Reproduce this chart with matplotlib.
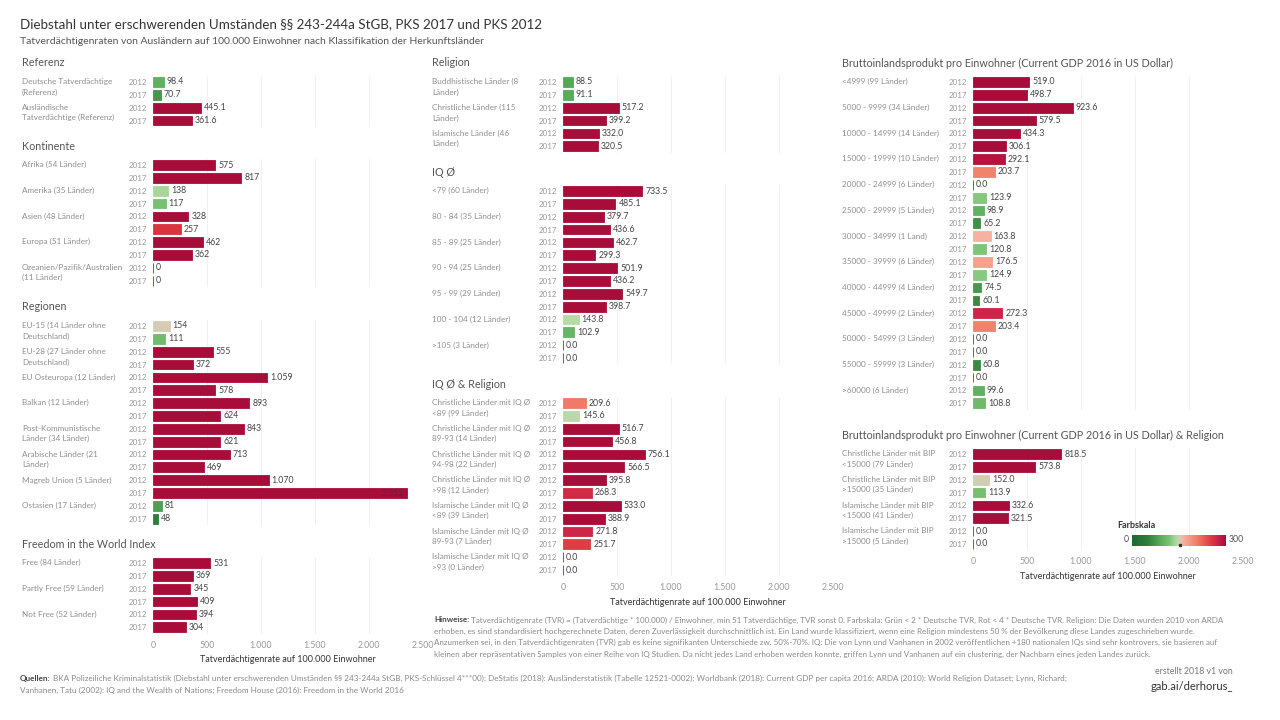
import matplotlib
matplotlib.use("Agg")
import matplotlib.pyplot as plt
import numpy as np
from matplotlib.colors import LinearSegmentedColormap, Normalize
from matplotlib.transforms import offset_copy

plt.rcParams['font.family'] = ['Lato', 'DejaVu Sans']

# ---- data ----
ref_cats = ["Deutsche Tatverdächtige\n(Referenz)", "Ausländische\nTatverdächtige (Referenz)"]
ref_vals = [98.4, 70.7, 445.1, 361.6]

kont_cats = ["Afrika (54 Länder)", "Amerika (35 Länder)", "Asien (48 Länder)",
             "Europa (51 Länder)", "Ozeanien/Pazifik/Australien\n(11 Länder)"]
kont_vals = [575, 817, 138, 117, 328, 257, 462, 362, 0, 0]

reg_cats = ["EU-15 (14 Länder ohne\nDeutschland)", "EU-28 (27 Länder ohne\nDeutschland)",
            "EU Osteuropa (12 Länder)", "Balkan (12 Länder)",
            "Post-Kommunistische\nLänder (34 Länder)", "Arabische Länder (21\nLänder)",
            "Magreb Union (5 Länder)", "Ostasien (17 Länder)"]
reg_vals = [154, 111, 555, 372, 1059, 578, 893, 624, 843, 621, 713, 469, 1070, 2352, 81, 48]

free_cats = ["Free (84 Länder)", "Partly Free (59 Länder)", "Not Free (52 Länder)"]
free_vals = [531, 369, 345, 409, 394, 304]

rel_cats = ["Buddhistische Länder (8\nLänder)", "Christliche Länder (115\nLänder)",
            "Islamische Länder (46\nLänder)"]
rel_vals = [88.5, 91.1, 517.2, 399.2, 332.0, 320.5]

iq_cats = ["<79 (60 Länder)", "80 - 84 (35 Länder)", "85 - 89 (25 Länder)", "90 - 94 (25 Länder)",
           "95 - 99 (29 Länder)", "100 - 104 (12 Länder)", ">105 (3 Länder)"]
iq_vals = [733.5, 485.1, 379.7, 436.6, 462.7, 299.3, 501.9, 436.2, 549.7, 398.7,
           143.8, 102.9, 0.0, 0.0]

iqrel_cats = ["Christliche Länder mit IQ Ø\n<89 (99 Länder)", "Christliche Länder mit IQ Ø\n89-93 (14 Länder)",
              "Christliche Länder mit IQ Ø\n94-98 (22 Länder)", "Christliche Länder mit IQ Ø\n>98 (12 Länder)",
              "Islamische Länder mit IQ Ø\n<89 (39 Länder)", "Islamische Länder mit IQ Ø\n89-93 (7 Länder)",
              "Islamische Länder mit IQ Ø\n>93 (0 Länder)"]
iqrel_vals = [209.6, 145.6, 516.7, 456.8, 756.1, 566.5, 395.8, 268.3, 533.0, 388.9,
              271.8, 251.7, 0.0, 0.0]

bip_cats = ["<4999 (99 Länder)", "5000 - 9999 (34 Länder)", "10000 - 14999 (14 Länder)",
            "15000 - 19999 (10 Länder)", "20000 - 24999 (6 Länder)", "25000 - 29999 (5 Länder)",
            "30000 - 34999 (1 Land)", "35000 - 39999 (6 Länder)", "40000 - 44999 (4 Länder)",
            "45000 - 49999 (2 Länder)", "50000 - 54999 (3 Länder)", "55000 - 59999 (3 Länder)",
            ">60000 (6 Länder)"]
bip_vals = [519.0, 498.7, 923.6, 579.5, 434.3, 306.1, 292.1, 203.7, 0.0, 123.9, 98.9, 65.2,
            163.8, 120.8, 176.5, 124.9, 74.5, 60.1, 272.3, 203.4, 0.0, 0.0, 60.8, 0.0, 99.6, 108.8]

biprel_cats = ["Christliche Länder mit BIP\n<15000 (79 Länder)", "Christliche Länder mit BIP\n>15000 (35 Länder)",
               "Islamische Länder mit BIP\n<15000 (41 Länder)", "Islamische Länder mit BIP\n>15000 (5 Länder)"]
biprel_vals = [818.5, 573.8, 152.0, 113.9, 332.6, 321.5, 0.0, 0.0]

years = ["2012", "2017"]
xticks = [0, 500, 1000, 1500, 2000, 2500]

# ---- colours ----
cmap = LinearSegmentedColormap.from_list("farbskala", [
    (0.0, '#1d6a34'), (0.16, '#2f7d3b'), (0.3, '#56ab58'), (0.4, '#7cc474'),
    (0.48, '#b5dca7'), (0.505, '#cfcdb5'), (0.52, '#dcc9b2'), (0.545, '#f8b0a0'),
    (0.68, '#f2826a'), (0.85, '#de3740'), (0.92, '#c9224a'), (1.0, '#a80d3a')])
norm = Normalize(0, 300, clip=True)

W, H = 1280, 720
PITCH = 12.85
XW = 270
fig = plt.figure(figsize=(12.8, 7.2), dpi=100, facecolor='white')


def de_int(v):
    return f"{int(round(v)):,}".replace(",", ".")


def one_dec(v):
    return f"{v:.1f}"


def panel(x0, xlab, title_y, y_first, cats, vals, title, fmt, xaxis=False):
    n = len(vals)
    top = y_first - PITCH / 2
    ax = fig.add_axes([x0 / W, 1 - (top + n * PITCH) / H, XW / W, n * PITCH / H])
    ax.set_xlim(0, 2500)
    ax.set_ylim(n - 0.5, -0.5)
    for s in ax.spines.values():
        s.set_visible(False)
    for g in xticks[1:]:
        ax.axvline(g, color='#f0f0f0', lw=0.7, zorder=0)
    cols = [cmap(norm(v)) for v in vals]
    ax.barh(range(n), vals, height=0.76, color=cols, edgecolor=cols, linewidth=0.6, zorder=2)
    lab_tr = offset_copy(ax.transData, fig=fig, x=3, y=0, units='dots')
    in_tr = offset_copy(ax.transData, fig=fig, x=-3, y=0, units='dots')
    for i, v in enumerate(vals):
        if v > 2200:
            # label that would run off the panel sits inside the bar
            ax.text(v, i, fmt(v), transform=in_tr, ha='right', va='center',
                    fontsize=6.3, color='#3a3a3a', zorder=3)
        else:
            ax.text(v, i, fmt(v), transform=lab_tr, ha='left', va='center',
                    fontsize=6.3, color='#444', zorder=3)
    ax.set_yticks(range(n))
    ax.set_yticklabels(years * (n // 2))
    ax.tick_params(axis='y', length=0, pad=4, labelsize=5.7, labelcolor='#999')
    lx = (xlab - x0) / XW
    for j, c in enumerate(cats):
        ax.text(lx, 2 * j - 0.3, c, transform=ax.get_yaxis_transform(), ha='left', va='top',
                fontsize=5.9, color='#8f8f8f', linespacing=1.55)
    fig.text(xlab / W, 1 - title_y / H, title, ha='left', va='center', fontsize=7.75, color='#555')
    if not xaxis:
        ax.set_xticks([])
    else:
        ax.set_xticks(xticks)
        ax.set_xticklabels([de_int(t) for t in xticks])
        ax.tick_params(axis='x', length=0, pad=5, labelsize=6.3, labelcolor='#999')
        ax.set_xlabel("Tatverdächtigenrate auf 100.000 Einwohner", fontsize=6.5,
                      color='#333', labelpad=4)
    return ax


# left column
panel(153, 22, 63, 82, ref_cats, ref_vals, "Referenz", one_dec)
panel(153, 22, 146, 165, kont_cats, kont_vals, "Kontinente", de_int)
panel(153, 22, 307, 326, reg_cats, reg_vals, "Regionen", de_int)
panel(153, 22, 544, 563, free_cats, free_vals, "Freedom in the World Index", de_int, xaxis=True)
# middle column
panel(563, 432, 63, 82, rel_cats, rel_vals, "Religion", one_dec)
panel(563, 432, 172, 191, iq_cats, iq_vals, "IQ Ø", one_dec)
panel(563, 432, 384, 403, iqrel_cats, iqrel_vals, "IQ Ø & Religion", one_dec, xaxis=True)
# right column
panel(973, 842, 63, 82, bip_cats, bip_vals,
      "Bruttoinlandsprodukt pro Einwohner (Current GDP 2016 in US Dollar)", one_dec)
panel(973, 842, 435, 454, biprel_cats, biprel_vals,
      "Bruttoinlandsprodukt pro Einwohner (Current GDP 2016 in US Dollar) & Religion", one_dec, xaxis=True)

# colour legend
cax = fig.add_axes([1132 / W, 1 - 546 / H, 94 / W, 11 / H])
cax.imshow(np.linspace(0, 1, 256)[None, :], aspect='auto', cmap=cmap, extent=(0, 300, 0, 1))
cax.set_axis_off()
cax.plot([152], [0.08], marker='s', ms=1.5, color='#333', clip_on=False)
fig.text(1117 / W, 1 - 525 / H, "Farbskala", fontsize=6.5, color='#333', fontweight='bold', va='center')
fig.text(1129 / W, 1 - 540 / H, "0", fontsize=6.3, color='#555', ha='right', va='center')
fig.text(1229 / W, 1 - 540 / H, "300", fontsize=6.3, color='#555', ha='left', va='center')

# titles
fig.text(20 / W, 1 - 24 / H, "Diebstahl unter erschwerenden Umständen §§ 243-244a StGB, PKS 2017 und PKS 2012",
         fontsize=9.6, color='#333', va='center')
fig.text(20 / W, 1 - 41 / H, "Tatverdächtigenraten von Ausländern auf 100.000 Einwohner nach Klassifikation der Herkunftsländer",
         fontsize=7.45, color='#555', va='center')

renderer = fig.canvas.get_renderer()


def bold_lead(x, y, lead, rest, size):
    t = fig.text(x / W, 1 - y / H, lead, fontsize=size, color='#444', fontweight='bold', va='center')
    w = t.get_window_extent(renderer).width
    fig.text((x + w + 2) / W, 1 - y / H, rest, fontsize=size, color='#8a8a8a', va='center')


hinweise = [
    "Tatverdächtigenrate (TVR) = (Tatverdächtige * 100.000) / Einwohner, min 51 Tatverdächtige, TVR sonst 0. Farbskala: Grün < 2 * Deutsche TVR, Rot < 4 * Deutsche TVR. Religion: Die Daten wurden 2010 von ARDA",
    "erhoben, es sind standardisiert hochgerechnete Daten, deren Zuverlässigkeit durchschnittlich ist. Ein Land wurde klassifiziert, wenn eine Religion mindestens 50 % der Bevölkerung diese Landes zugeschrieben wurde.",
    "Anzumerken sei, in den Tatverdächtigenraten (TVR) gab es keine signifikanten Unterschiede zw. 50%-70%. IQ: Die von Lynn und Vanhanen in 2002 veröffentlichen +180 nationalen IQs sind sehr kontrovers, sie basieren auf",
    "kleinen aber repräsentativen Samples von einer Reihe von IQ Studien. Da nicht jedes Land erhoben werden konnte, griffen Lynn und Vanhanen auf ein clustering, der Nachbarn eines jeden Landes zurück.",
]
bold_lead(434, 620, "Hinweise:", hinweise[0], 5.8)
for k, line in enumerate(hinweise[1:]):
    fig.text(434 / W, 1 - (631.5 + 11.3 * k) / H, line, fontsize=5.8, color='#8a8a8a', va='center')

quellen = [
    "BKA Polizeiliche Kriminalstatistik (Diebstahl unter erschwerenden Umständen §§ 243-244a StGB, PKS-Schlüssel 4***00); DeStatis (2018): Ausländerstatistik (Tabelle 12521-0002); Worldbank (2018): Current GDP per capita 2016; ARDA (2010): World Religion Dataset; Lynn, Richard;",
    "Vanhanen, Tatu (2002): IQ and the Wealth of Nations; Freedom House (2016): Freedom in the World 2016",
]
bold_lead(20, 678, "Quellen:", quellen[0], 5.85)
fig.text(20 / W, 1 - 690 / H, quellen[1], fontsize=5.85, color='#8a8a8a', va='center')

fig.text(1233 / W, 1 - 672 / H, "erstellt 2018 v1 von", fontsize=6.3, color='#777', ha='right', va='center')
fig.text(1233 / W, 1 - 686 / H, "gab.ai/derhorus_", fontsize=8, color='#333', ha='right', va='center')

fig.savefig("out.png", dpi=100, facecolor='white')
